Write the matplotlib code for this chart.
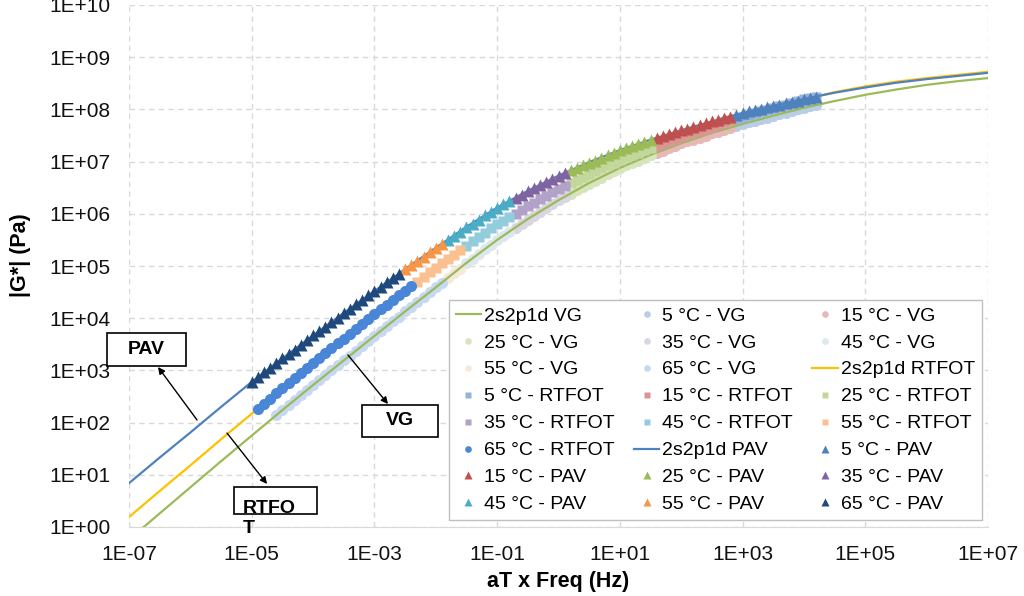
import numpy as np
import matplotlib.pyplot as plt
from matplotlib.patches import Rectangle
from matplotlib.ticker import FixedLocator, FuncFormatter, NullLocator

plt.rcParams['font.family'] = ['Liberation Sans', 'DejaVu Sans']

temps = [5, 15, 25, 35, 45, 55, 65]

# 2s2p1d fits, log10 |G*| (Pa) every half decade of aT x Freq
model_log_f = [-7, -6.5, -6, -5.5, -5, -4.5, -4, -3.5, -3, -2.5, -2, -1.5, -1, -0.5,
               0, 0.5, 1, 1.5, 2, 2.5, 3, 3.5, 4, 4.5, 5, 5.5, 6, 6.5, 7]
vg_model = [-0.24, 0.26, 0.76, 1.26, 1.75, 2.24, 2.72, 3.19, 3.66, 4.13, 4.59, 5.06,
            5.50, 5.90, 6.26, 6.59, 6.88, 7.13, 7.35, 7.55, 7.72, 7.88, 8.03, 8.16,
            8.28, 8.38, 8.47, 8.54, 8.60]
rtfot_model = [0.19, 0.69, 1.18, 1.68, 2.17, 2.66, 3.14, 3.62, 4.08, 4.53, 4.97, 5.40,
               5.80, 6.16, 6.48, 6.78, 7.04, 7.27, 7.48, 7.68, 7.86, 8.03, 8.19, 8.33,
               8.44, 8.53, 8.60, 8.66, 8.72]
pav_model = [0.84, 1.33, 1.81, 2.30, 2.78, 3.23, 3.67, 4.10, 4.52, 4.94, 5.35, 5.75,
             6.12, 6.44, 6.73, 6.99, 7.22, 7.42, 7.60, 7.77, 7.93, 8.07, 8.20, 8.32,
             8.42, 8.51, 8.58, 8.64, 8.70]

# measured points, log10 of aT x Freq (Hz)
log_af = [-5.0, -4.9, -4.8, -4.7, -4.6, -4.5, -4.4, -4.3, -4.2, -4.1,
          -4.0, -3.9, -3.8, -3.7, -3.6, -3.5, -3.4, -3.3, -3.2, -3.1,
          -3.0, -2.9, -2.8, -2.7, -2.6, -2.5, -2.4, -2.3, -2.2, -2.1,
          -2.0, -1.9, -1.8, -1.7, -1.6, -1.5, -1.4, -1.3, -1.2, -1.1,
          -1.0, -0.9, -0.8, -0.7, -0.6, -0.5, -0.4, -0.3, -0.2, -0.1,
          0.0, 0.1, 0.2, 0.3, 0.4, 0.5, 0.6, 0.7, 0.8, 0.9,
          1.0, 1.1, 1.2, 1.3, 1.4, 1.5, 1.6, 1.7, 1.8, 1.9,
          2.0, 2.1, 2.2, 2.3, 2.4, 2.5, 2.6, 2.7, 2.8, 2.9,
          3.0, 3.1, 3.2, 3.3, 3.4, 3.5, 3.6, 3.7, 3.8, 3.9,
          4.0, 4.1, 4.2]

# log10 |G*| of the points; each binder starts at its own index of log_af
vg_start = 4
vg_log_g = [2.14, 2.24, 2.33, 2.43, 2.53, 2.62,
            2.72, 2.81, 2.91, 3.00, 3.10, 3.19, 3.28, 3.38, 3.47, 3.57,
            3.66, 3.75, 3.85, 3.94, 4.03, 4.13, 4.22, 4.31, 4.40, 4.50,
            4.59, 4.68, 4.77, 4.86, 4.95, 5.05, 5.14, 5.23, 5.32, 5.41,
            5.50, 5.58, 5.65, 5.73, 5.80, 5.88, 5.96, 6.03, 6.11, 6.18,
            6.26, 6.32, 6.38, 6.45, 6.51, 6.57, 6.63, 6.69, 6.76, 6.82,
            6.88, 6.93, 6.97, 7.02, 7.07, 7.12, 7.16, 7.21, 7.26, 7.30,
            7.35, 7.39, 7.42, 7.46, 7.50, 7.54, 7.57, 7.61, 7.65, 7.68,
            7.72, 7.75, 7.78, 7.81, 7.84, 7.88, 7.91, 7.94, 7.97, 8.00,
            8.03, 8.06, 8.08]
rtfot_start = 1
rtfot_log_g = [2.27, 2.36, 2.46, 2.56, 2.66, 2.75, 2.85, 2.95, 3.04,
               3.14, 3.23, 3.33, 3.42, 3.52, 3.61, 3.70, 3.80, 3.89, 3.99,
               4.08, 4.17, 4.26, 4.35, 4.44, 4.53, 4.61, 4.70, 4.79, 4.88,
               4.97, 5.05, 5.14, 5.22, 5.30, 5.39, 5.47, 5.55, 5.63, 5.72,
               5.80, 5.87, 5.94, 6.00, 6.07, 6.14, 6.21, 6.28, 6.34, 6.41,
               6.48, 6.54, 6.59, 6.65, 6.70, 6.76, 6.82, 6.87, 6.93, 6.98,
               7.04, 7.08, 7.13, 7.17, 7.22, 7.26, 7.30, 7.35, 7.39, 7.44,
               7.48, 7.52, 7.56, 7.59, 7.63, 7.67, 7.71, 7.75, 7.79, 7.82,
               7.86, 7.89, 7.93, 7.96, 7.99, 8.03, 8.06, 8.09, 8.12, 8.16,
               8.19, 8.21, 8.24]
pav_start = 0
pav_log_g = [2.78, 2.87, 2.96, 3.05, 3.14, 3.23, 3.31, 3.40, 3.49, 3.58,
             3.67, 3.76, 3.84, 3.93, 4.01, 4.10, 4.18, 4.27, 4.35, 4.44,
             4.52, 4.60, 4.69, 4.77, 4.85, 4.94, 5.02, 5.10, 5.18, 5.27,
             5.35, 5.43, 5.50, 5.58, 5.66, 5.74, 5.81, 5.89, 5.97, 6.04,
             6.12, 6.18, 6.24, 6.30, 6.36, 6.43, 6.49, 6.55, 6.61, 6.67,
             6.73, 6.78, 6.83, 6.88, 6.93, 6.98, 7.02, 7.07, 7.12, 7.17,
             7.22, 7.26, 7.30, 7.33, 7.37, 7.41, 7.45, 7.49, 7.52, 7.56,
             7.60, 7.63, 7.67, 7.70, 7.73, 7.77, 7.80, 7.83, 7.86, 7.90,
             7.93, 7.96, 7.98, 8.01, 8.04, 8.07, 8.09, 8.12, 8.15, 8.17,
             8.20, 8.22, 8.24]

# points per temperature (5 ... 65 °C); hottest sweep sits at the lowest freq
vg_counts = [14, 13, 14, 9, 8, 3, 28]
rtfot_counts = [14, 13, 14, 9, 8, 8, 26]
pav_counts = [14, 13, 14, 9, 11, 7, 25]

vg_colors = ['#B9CDE5', '#E6B9B8', '#D7E4BD', '#D9D5E3', '#DCE8EE', '#F6E9DC', '#C6D9F1']
rtfot_colors = ['#95B3D7', '#D99694', '#C3D69B', '#B3A2C7', '#93CDDD', '#FAC090', '#4A86D8']
pav_colors = ['#4F81BD', '#C0504D', '#9BBB59', '#8064A2', '#4BACC6', '#F79646', '#1F497D']


def segments(counts):
    out = []
    stop = sum(counts)
    for n in counts:
        out.append((stop - n, stop))
        stop -= n
    return out


fig = plt.figure(figsize=(10.24, 5.96), dpi=100)
ax = fig.add_axes([129 / 1024, 1 - 527 / 596, 859 / 1024, 522 / 596])

lx = np.array(log_af)
mf = 10 ** np.array(model_log_f, dtype=float)


def draw_points(name, start, log_g, counts, colors, markers, sizes, z):
    lg = np.array(log_g)
    hs = []
    for t, (a, b), c, m, s in zip(temps, segments(counts), colors, markers, sizes):
        h, = ax.plot(10 ** lx[start + a:start + b], 10 ** lg[a:b], ls='none',
                     marker=m, ms=s, color=c, mec='none', zorder=z,
                     label=f'{t} °C - {name}')
        hs.append(h)
    return hs


vg_pts = draw_points('VG', vg_start, vg_log_g, vg_counts, vg_colors,
                     ['o'] * 7, [8] * 7, 2)
vg_line, = ax.plot(mf, 10 ** np.array(vg_model), color='#9BBB59', lw=1.6,
                   zorder=2.5, label='2s2p1d VG')
rtfot_line, = ax.plot(mf, 10 ** np.array(rtfot_model), color='#FFC000', lw=1.6,
                      zorder=2.6, label='2s2p1d RTFOT')
rtfot_pts = draw_points('RTFOT', rtfot_start, rtfot_log_g, rtfot_counts,
                        rtfot_colors, ['s'] * 6 + ['o'], [7.5] * 6 + [8], 3)
pav_line, = ax.plot(mf, 10 ** np.array(pav_model), color='#4F81BD', lw=1.6,
                    zorder=3.5, label='2s2p1d PAV')
pav_pts = draw_points('PAV', pav_start, pav_log_g, pav_counts, pav_colors,
                      ['^'] * 7, [8.5] * 7, 4)

ax.set_xscale('log')
ax.set_yscale('log')
ax.set_xlim(1e-7, 1e7)
ax.set_ylim(1, 1e10)
ax.xaxis.set_major_locator(FixedLocator([10.0 ** k for k in range(-7, 8, 2)]))
ax.yaxis.set_major_locator(FixedLocator([10.0 ** k for k in range(0, 11)]))
ax.xaxis.set_minor_locator(NullLocator())
ax.yaxis.set_minor_locator(NullLocator())
fmt = FuncFormatter(lambda v, _: f'1E{int(round(np.log10(v))):+03d}')
ax.xaxis.set_major_formatter(fmt)
ax.yaxis.set_major_formatter(fmt)
ax.tick_params(axis='both', length=0, labelsize=15, colors='#111111')
ax.tick_params(axis='x', pad=13)
ax.tick_params(axis='y', pad=13.5)
ax.grid(True, which='major', ls=(0, (4, 3)), color='#d9d9d9', lw=1)
for side in ['top', 'right', 'left']:
    ax.spines[side].set_visible(False)
ax.spines['bottom'].set_color('#d9d9d9')

ax.set_xlabel('aT x Freq (Hz)', fontsize=15.5, fontweight='bold')
ax.set_ylabel('|G*| (Pa)', fontsize=15.5, fontweight='bold')
ax.xaxis.set_label_coords(0.5, -0.085)
ax.yaxis.set_label_coords(-0.114, 0.52)

# legend filled row by row, as in the original
rows = [vg_line] + vg_pts + [rtfot_line] + rtfot_pts + [pav_line] + pav_pts
order = [rows[3 * r + c] for c in range(3) for r in range(8)]
leg = ax.legend(order, [h.get_label() for h in order], ncol=3,
                loc='lower left', bbox_to_anchor=(0.3725, 0.0134),
                fontsize=14, frameon=True, fancybox=False, edgecolor='#bfbfbf',
                framealpha=1, handlelength=1.3, handletextpad=0.15,
                columnspacing=1.0, labelspacing=0.48, borderpad=0.35,
                borderaxespad=0, markerscale=0.6)
leg.get_frame().set_linewidth(1.0)
leg.set_zorder(5)


def box(x0, y0, x1, y1):
    ax.add_patch(Rectangle((x0, y0), x1 - x0, y1 - y0, transform=ax.transAxes,
                           fc='white', ec='black', lw=1.2, clip_on=False, zorder=6))


def arrow(tail, tip):
    ax.annotate('', xy=tip, xytext=tail, xycoords='axes fraction',
                textcoords='axes fraction', zorder=6,
                arrowprops=dict(arrowstyle='-|>', color='black', lw=1,
                                mutation_scale=10, shrinkA=0, shrinkB=0))


box(-0.0256, 0.3084, 0.0664, 0.3716)
ax.text(0.0204, 0.340, 'PAV', transform=ax.transAxes, ha='center', va='center',
        fontsize=14, fontweight='bold', zorder=7)
arrow((0.0792, 0.205), (0.0338, 0.3065))

box(0.2712, 0.1724, 0.3597, 0.2337)
ax.text(0.3155, 0.2031, 'VG', transform=ax.transAxes, ha='center', va='center',
        fontsize=14, fontweight='bold', zorder=7)
arrow((0.2549, 0.3295), (0.3015, 0.2356))

box(0.1222, 0.0249, 0.2189, 0.0766)
ax.text(0.1327, 0.017, 'RTFO\nT', transform=ax.transAxes, ha='left', va='center',
        fontsize=14, fontweight='bold', linespacing=1.25, zorder=7)
arrow((0.1141, 0.180), (0.1607, 0.0824))

fig.savefig('out.png', dpi=100)
